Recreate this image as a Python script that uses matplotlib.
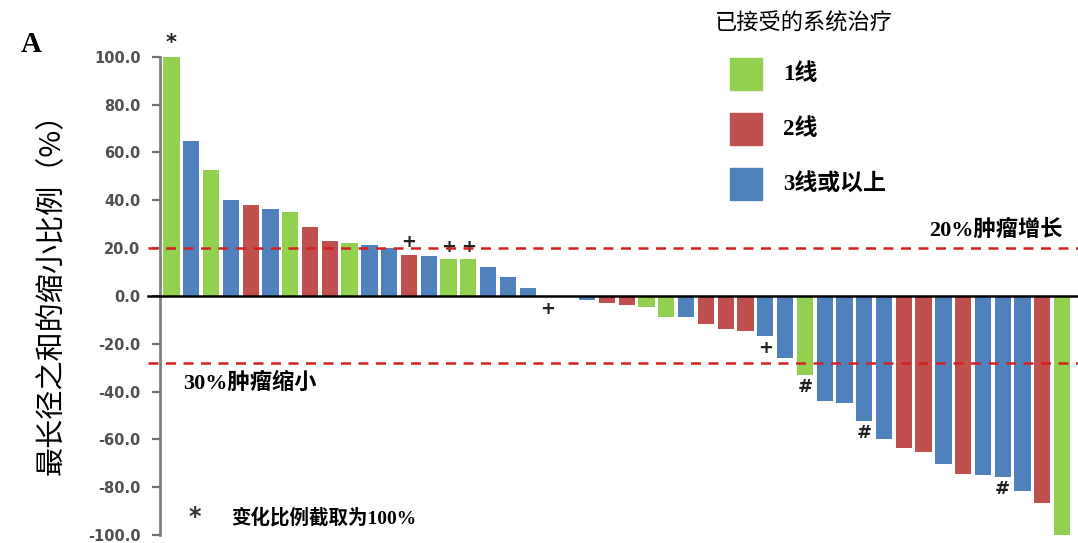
import numpy as np
import matplotlib

matplotlib.use("Agg")
import matplotlib.pyplot as plt  # noqa: E402
from matplotlib.patches import Rectangle  # noqa: E402

plt.rcParams["font.family"] = ["DejaVu Sans", "Noto Sans CJK SC"]

# best change in sum of longest diameters (%), waterfall order
values = [100.0, 65.0, 52.5, 40.0, 38.0, 36.5, 35.3, 29.0, 23.0, 22.0, 21.5,
          20.0, 17.2, 16.5, 15.3, 15.3, 12.3, 8.1, 3.2, 0.0, 0.0, -1.6,
          -2.8, -3.8, -4.7, -8.9, -8.9, -11.8, -13.8, -14.6, -16.6, -25.8,
          -33.0, -43.8, -44.6, -52.2, -59.8, -63.7, -65.4, -70.3, -74.5,
          -74.9, -75.6, -81.4, -86.8, -100.0]
# prior lines of systemic therapy: 1, 2, 3 (= 3 or more)
lines = [1, 3, 1, 3, 2, 3, 1, 2, 2, 1, 3,
         3, 2, 3, 1, 1, 3, 3, 3, 3, 3, 3,
         2, 2, 1, 1, 3, 2, 2, 2, 3, 3,
         1, 3, 3, 3, 3, 2, 2, 3, 2,
         3, 3, 3, 2, 1]
# bar annotations: index -> symbol
mark_idx = [0, 12, 14, 15, 19, 30, 32, 35, 42]
mark_sym = ["*", "+", "+", "+", "+", "+", "#", "#", "#"]

legend_labels = ["1线", "2线", "3线或以上"]
line_colors = {1: "#92d050", 2: "#c0504d", 3: "#4f81bd"}
y_ticks = [100, 80, 60, 40, 20, 0, -20, -40, -60, -80, -100]
progress_line = 20
response_line = -28

fig = plt.figure(figsize=(10.78, 5.43), dpi=100)
ax = fig.add_axes([0.1484, 0.0147, 0.8516, 0.8806])

x = np.arange(len(values))
ax.bar(x, values, width=0.82, color=[line_colors[k] for k in lines], zorder=2)

ax.set_xlim(-0.58, 45.8)
ax.set_ylim(-100, 100)
ax.set_xticks([])
ax.set_yticks(y_ticks)
ax.set_yticklabels([f"{t:.1f}" for t in y_ticks], fontsize=10.5,
                   fontweight="bold", color="#505050")
ax.tick_params(axis="y", length=6, width=1.6, color="#707070", pad=8)
for s in ["top", "right", "bottom"]:
    ax.spines[s].set_visible(False)
ax.spines["left"].set_color("#808080")
ax.spines["left"].set_linewidth(2)

# zero line
ax.plot([-1.2, 45.8], [0, 0], color="black", lw=1.8, zorder=3, clip_on=False)

# threshold lines
for yv in (progress_line, response_line):
    ax.plot([-1.2, 45.8], [yv, yv], color="#d42020", lw=1.8,
            ls=(0, (4, 3)), zorder=4, clip_on=False)

serif_cjk = ["Liberation Serif", "Noto Sans CJK SC"]
ax.text(45.0, 23, "20%肿瘤增长", ha="right", va="bottom", fontsize=16,
        fontweight="bold", family=serif_cjk)
ax.text(0.6, -32, "30%肿瘤缩小", ha="left", va="top", fontsize=16,
        fontweight="bold", family=serif_cjk)

# symbols on bars
for i, sym in zip(mark_idx, mark_sym):
    v = values[i]
    if v > 0:
        ax.text(i, v + 1.5, sym, ha="center", va="bottom", fontsize=15 if sym == "*" else 13,
                fontweight="bold", color="#202020")
    else:
        ax.text(i, v - 1.5, sym, ha="center", va="top", fontsize=13,
                fontweight="bold", color="#202020")

# footnote
fig.text(0.181, 0.047, "*", ha="center", va="center", fontsize=17,
         fontweight="bold", color="#303030")
fig.text(0.215, 0.047, "变化比例截取为100%", ha="left", va="center",
         fontsize=14, fontweight="bold", family=serif_cjk)

# legend block
fig.text(0.663, 0.958, "已接受的系统治疗", ha="left", va="center", fontsize=16,
         family=["Noto Sans CJK SC"])
for k, lab in enumerate(legend_labels):
    yc = 1 - (74 + 55 * k) / 543
    fig.patches.append(Rectangle((730 / 1078, yc - 16 / 543), 32 / 1078, 32 / 543,
                                 transform=fig.transFigure, color=line_colors[k + 1]))
    fig.text(783 / 1078, yc, lab, ha="left", va="center", fontsize=16.5,
             fontweight="bold", family=serif_cjk)

fig.text(0.019, 0.905, "A", fontsize=21, fontweight="bold", family=["Liberation Serif"])
fig.text(0.048, 0.471, "最长径之和的缩小比例（%）", rotation=90, ha="center", va="center",
         fontsize=21, family=["Noto Sans CJK SC"])

fig.savefig("out.png")
